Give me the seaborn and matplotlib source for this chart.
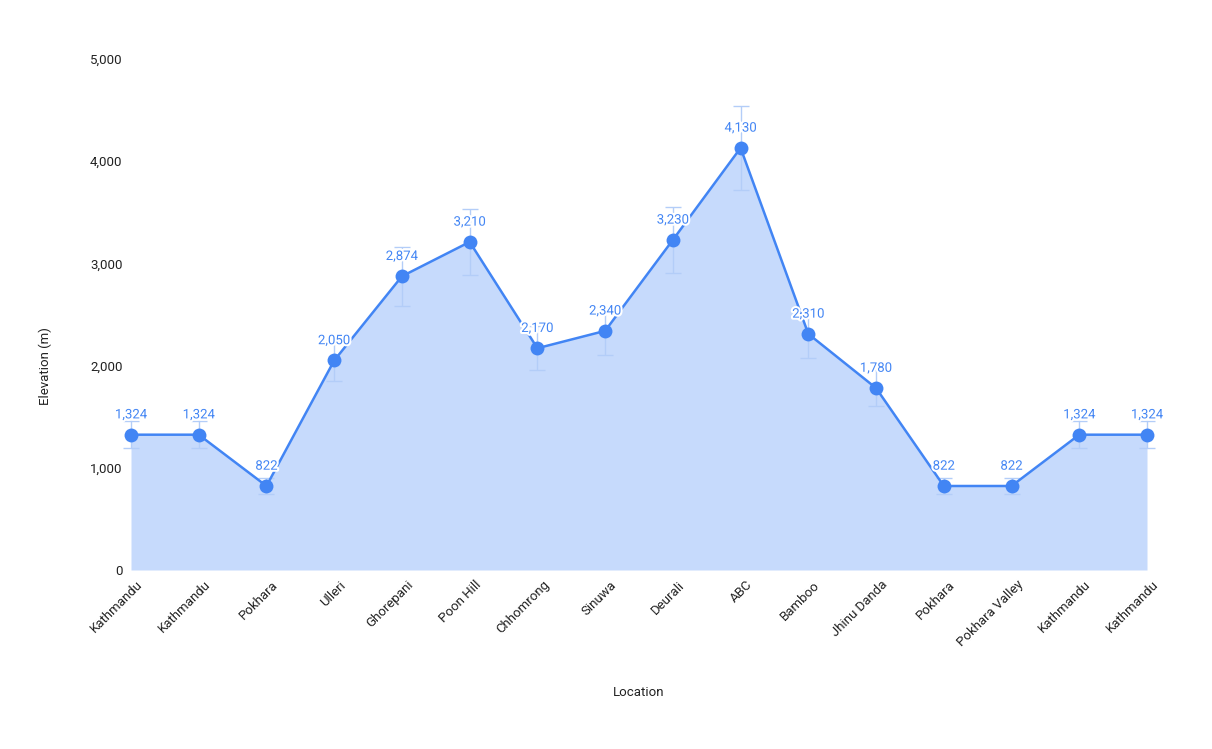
import matplotlib
matplotlib.use("Agg")
import matplotlib.pyplot as plt
import matplotlib.patheffects as pe
import matplotlib.transforms as mtransforms
import seaborn as sns
import pandas as pd
import numpy as np

locations = ["Kathmandu", "Kathmandu", "Pokhara", "Ulleri", "Ghorepani", "Poon Hill",
             "Chhomrong", "Sinuwa", "Deurali", "ABC", "Bamboo", "Jhinu Danda",
             "Pokhara", "Pokhara Valley", "Kathmandu", "Kathmandu"]
elevations = [1324, 1324, 822, 2050, 2874, 3210, 2170, 2340, 3230, 4130, 2310, 1780,
              822, 822, 1324, 1324]
errors = [132, 132, 82, 205, 287, 321, 217, 234, 323, 413, 231, 178, 82, 82, 132, 132]
y_ticks = [0, 1000, 2000, 3000, 4000, 5000]

sns.set_theme(style="white")
plt.rcParams["font.family"] = ["Roboto", "DejaVu Sans"]

df = pd.DataFrame({"idx": np.arange(len(locations)), "elev": elevations, "err": errors})

fig = plt.figure(figsize=(12.12, 7.49), dpi=100)
ax = fig.add_axes([131/1212, 1-570/749, (1147-131)/1212, (570-59)/749])

line_c = "#4285f4"
fill_c = "#c6dafc"
err_c = "#b3cdf8"

ax.fill_between(df["idx"], 0, df["elev"], color=fill_c, lw=0, zorder=1)
ax.errorbar(df["idx"], df["elev"], yerr=df["err"], fmt="none", ecolor=err_c,
            elinewidth=1, capsize=6, capthick=1, zorder=2, clip_on=False)
sns.lineplot(data=df, x="idx", y="elev", ax=ax, color=line_c, lw=1.8, marker="o",
             markersize=10, markeredgewidth=0, zorder=3, clip_on=False)

for i, v in enumerate(elevations):
    ax.text(i, v + 130, f"{v:,}", ha="center", va="bottom", fontsize=9.5, color=line_c,
            zorder=4, path_effects=[pe.withStroke(linewidth=3, foreground="white")])

ax.set_xlim(0, len(locations) - 1)
ax.set_ylim(0, 5000)
ax.set_yticks(y_ticks)
ax.set_yticklabels([f"{t:,}" for t in y_ticks], fontsize=9.5, color="#222222")
ax.set_xticks(df["idx"])
ax.set_xticklabels(locations, rotation=45, ha="right", rotation_mode="anchor",
                   fontsize=9.5, color="#222222")
ax.tick_params(axis="both", length=0, pad=6)
shift = mtransforms.ScaledTranslation(5/100, 0, fig.dpi_scale_trans)
for lbl in ax.get_xticklabels():
    lbl.set_transform(lbl.get_transform() + shift)
for s in ax.spines.values():
    s.set_visible(False)
ax.grid(False)

ax.set_xlabel("")
ax.set_ylabel("")
fig.text(639/1212, 1-693/749, "Location", ha="center", va="center", fontsize=9.5, color="#222222")
fig.text(45/1212, 1-366/749, "Elevation (m)", ha="center", va="center", rotation=90,
         fontsize=9.5, color="#222222")

fig.savefig("out.png", dpi=100)
